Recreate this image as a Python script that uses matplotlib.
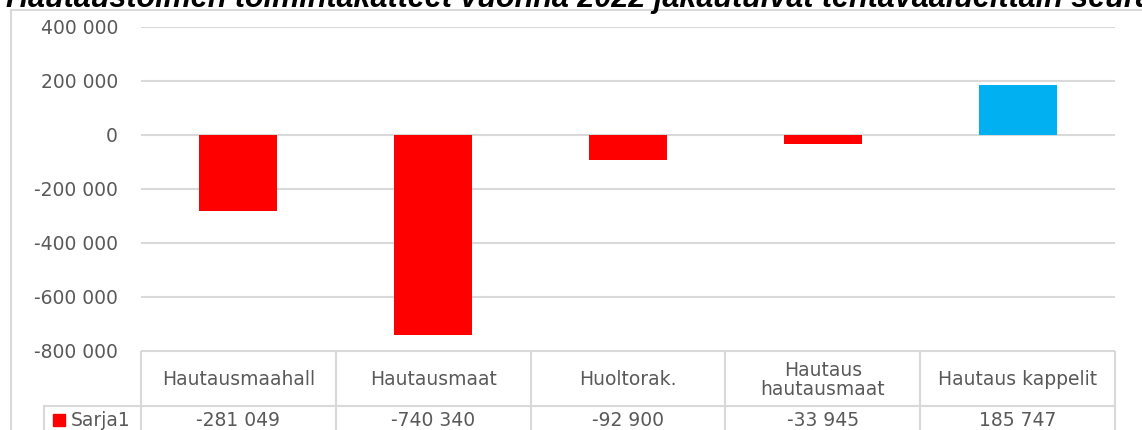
import matplotlib.pyplot as plt
from matplotlib.lines import Line2D

# data
categories = ["Hautausmaahall", "Hautausmaat", "Huoltorak.", "Hautaus\nhautausmaat", "Hautaus kappelit"]
values = [-281049, -740340, -92900, -33945, 185747]
value_labels = ["-281 049", "-740 340", "-92 900", "-33 945", "185 747"]
series_name = "Sarja1"
yticks = [400000, 200000, 0, -200000, -400000, -600000, -800000]
ytick_labels = ["400 000", "200 000", "0", "-200 000", "-400 000", "-600 000", "-800 000"]
title = "Hautaustoimen toimintakatteet vuonna 2022 jakautuivat tehtäväalueittain seuraavasti"

RED = "#FF0000"
BLUE = "#00B0F0"
GRID = "#D9D9D9"
TXT = "#595959"
W, H = 1142, 430
FS = 13.5

plt.rcParams['font.family'] = ['DejaVu Sans']

fig = plt.figure(figsize=(W / 100, H / 100), dpi=100)


def fx(px):
    return px / W


def fy(py):
    return 1 - py / H


# outer chart border (right side is outside the screenshot)
fig.add_artist(Line2D([fx(11), fx(11)], [fy(10), 0], color=GRID, lw=1.5))
fig.add_artist(Line2D([fx(11), 1], [fy(10), fy(10)], color=GRID, lw=1.5))

# title, cut off at the top like the screenshot
fig.text(fx(6), fy(7.5), title, fontsize=22, fontweight='bold', fontstyle='italic',
         family=['Liberation Sans', 'DejaVu Sans'], color='black', ha='left', va='baseline')

# plot area
left, right, top, bottom = 141, 1115, 27, 351
ax = fig.add_axes([fx(left), fy(bottom), fx(right - left), (bottom - top) / H])
colors = [RED if v < 0 else BLUE for v in values]
ax.bar(range(len(values)), values, width=0.4, color=colors, zorder=3)
ax.set_xlim(-0.5, len(values) - 0.5)
ax.set_ylim(-800000, 400000)
ax.set_yticks(yticks)
ax.set_yticklabels(ytick_labels)
ax.yaxis.grid(True, color=GRID, lw=1.5, zorder=0)
ax.tick_params(axis='y', length=0, labelsize=FS, labelcolor=TXT, pad=16.5)
ax.set_xticks([])
for s in ax.spines.values():
    s.set_visible(False)

# data table below the plot area
tab = fig.add_axes([0, 0, 1, fy(bottom)])
tab.set_xlim(0, W)
tab.set_ylim(H, bottom)
tab.axis('off')
col_w = (right - left) / len(categories)
row_split = 406
tab.plot([left, right], [bottom, bottom], color=GRID, lw=1.5)
tab.plot([44, right], [row_split, row_split], color=GRID, lw=1.5)
tab.plot([44, 44], [row_split, H], color=GRID, lw=1.5)
for i in range(len(categories) + 1):
    x = left + i * col_w
    tab.plot([x, x], [bottom, H], color=GRID, lw=1.5)
for i, (c, lab) in enumerate(zip(categories, value_labels)):
    cx = left + (i + 0.5) * col_w
    tab.text(cx, (bottom + row_split) / 2 + 1, c, ha='center', va='center',
             fontsize=FS, color=TXT, linespacing=1.0)
    tab.text(cx, 420, lab, ha='center', va='center', fontsize=FS, color=TXT)
tab.add_patch(plt.Rectangle((53, 414), 12, 12, color=RED))
tab.text(71, 420, series_name, ha='left', va='center', fontsize=FS, color=TXT)

fig.savefig("out.png", dpi=100)
